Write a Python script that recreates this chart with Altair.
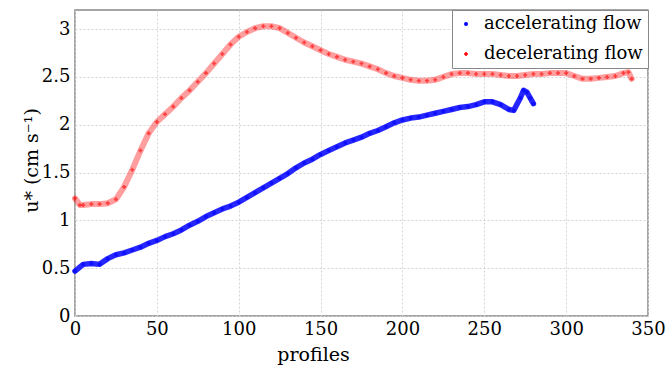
import altair as alt
import pandas as pd

series = ["accelerating flow", "decelerating flow"]

acc_x = [0, 5, 10, 15, 20, 25, 30, 35, 40, 45, 50, 55, 60, 65, 70, 75, 80, 85, 90, 95,
         100, 105, 110, 115, 120, 125, 130, 135, 140, 145, 150, 155, 160, 165, 170, 175,
         180, 185, 190, 195, 200, 205, 210, 215, 220, 225, 230, 235, 240, 245, 250, 255,
         260, 265, 268, 272, 274, 276, 278, 280]
acc_y = [0.47, 0.54, 0.55, 0.54, 0.60, 0.64, 0.66, 0.69, 0.72, 0.76, 0.79, 0.83, 0.86, 0.90,
         0.95, 0.99, 1.04, 1.08, 1.12, 1.15, 1.19, 1.24, 1.29, 1.34, 1.39, 1.44, 1.49, 1.55,
         1.60, 1.64, 1.69, 1.73, 1.77, 1.81, 1.84, 1.87, 1.91, 1.94, 1.98, 2.02, 2.05, 2.07,
         2.08, 2.10, 2.12, 2.14, 2.16, 2.18, 2.19, 2.21, 2.24, 2.24, 2.21, 2.16, 2.15, 2.28,
         2.36, 2.34, 2.28, 2.22]

dec_x = [0, 3, 5, 10, 15, 20, 25, 30, 35, 40, 45, 50, 55, 60, 65, 70, 75, 80, 85, 90, 95,
         100, 105, 110, 115, 120, 125, 130, 135, 140, 145, 150, 155, 160, 165, 170, 175,
         180, 185, 190, 195, 200, 205, 210, 215, 220, 225, 230, 235, 240, 245, 250, 255,
         260, 265, 270, 275, 280, 285, 290, 295, 300, 305, 310, 315, 320, 325, 330, 335,
         338, 340]
dec_y = [1.23, 1.16, 1.16, 1.17, 1.17, 1.18, 1.22, 1.35, 1.53, 1.73, 1.91, 2.03, 2.11, 2.19,
         2.28, 2.36, 2.45, 2.54, 2.64, 2.74, 2.84, 2.92, 2.97, 3.01, 3.03, 3.03, 3.01, 2.96,
         2.91, 2.86, 2.82, 2.78, 2.74, 2.71, 2.68, 2.66, 2.64, 2.61, 2.58, 2.54, 2.51, 2.49,
         2.47, 2.46, 2.46, 2.47, 2.50, 2.53, 2.54, 2.54, 2.53, 2.53, 2.53, 2.52, 2.51, 2.51,
         2.52, 2.53, 2.53, 2.54, 2.54, 2.54, 2.51, 2.48, 2.48, 2.49, 2.50, 2.51, 2.54, 2.55,
         2.48]

x_ticks = [0, 50, 100, 150, 200, 250, 300, 350]
y_ticks = [0, 0.5, 1, 1.5, 2, 2.5, 3]

FONT = "DejaVu Serif"

df = pd.concat([
    pd.DataFrame({"profile": acc_x, "u": acc_y, "flow": series[0]}),
    pd.DataFrame({"profile": dec_x, "u": dec_y, "flow": series[1]}),
], ignore_index=True)

x = alt.X("profile:Q", scale=alt.Scale(domain=[0, 350], nice=False),
          axis=alt.Axis(values=x_ticks, title="profiles", titleX=238, titleY=44,
                        titleBaseline="alphabetic", titleAnchor="middle", titleAlign="center"))
y = alt.Y("u:Q", scale=alt.Scale(domain=[0, 3.2], nice=False),
          axis=alt.Axis(values=y_ticks, format=".1~f", title="u* (cm s⁻¹)", titleX=-38,
                        titleY=150, titleAngle=270, titleBaseline="alphabetic", titleAlign="center",
                        labelPadding=5))

legend = alt.Legend(title=None)
color = alt.Color("flow:N", scale=alt.Scale(domain=series, range=["#0000ff", "#ff0000"]),
                  legend=legend)
shape = alt.Shape("flow:N", scale=alt.Scale(domain=series, range=["circle", "cross"]),
                  legend=legend)

base = alt.Chart(df)

blue_line = base.transform_filter(alt.datum.flow == series[0]).mark_line(
    color="#0000ff", strokeWidth=5.5, opacity=0.85, strokeCap="round", strokeJoin="round"
).encode(x=x, y=y)

red_line = base.transform_filter(alt.datum.flow == series[1]).mark_line(
    color="#ff0000", strokeWidth=6, opacity=0.38, strokeCap="round", strokeJoin="round"
).encode(x=x, y=y)

points = base.mark_point(filled=True, size=16, opacity=0.6).encode(
    x=x, y=y,
    color=color,
    shape=shape,
)

chart = alt.layer(blue_line, red_line, points).properties(
    width=573, height=306,
    autosize=alt.AutoSizeParams(type="none"),
    padding={"left": 75, "top": 10, "right": 20, "bottom": 49},
    background="white",
).configure_view(
    stroke="#888888", strokeWidth=1.5
).configure_axis(
    labelFont=FONT, labelFontSize=18, labelColor="black", labelFlush=False,
    titleFont=FONT, titleFontSize=19, titleFontWeight="normal", titleColor="black",
    grid=True, gridDash=[2, 2], gridColor="#d4d4d4", ticks=False, domain=False, labelPadding=4,
).configure_legend(
    orient="top-right", offset=0, fillColor="white", strokeColor="#888888",
    padding=5, labelFont=FONT, labelFontSize=18, labelColor="black",
    symbolSize=16, symbolOpacity=1, rowPadding=12, labelOffset=9,
    labelLimit=400, symbolOffset=0,
)

chart.save("out.html", embed_options={"renderer": "svg", "actions": False})
